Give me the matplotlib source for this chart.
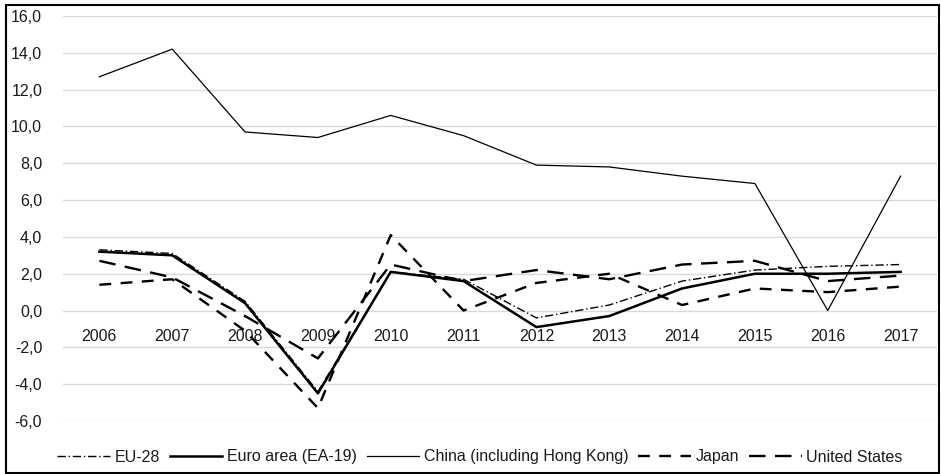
import matplotlib.pyplot as plt
from matplotlib.patches import Rectangle

plt.rcParams['font.family'] = ['Liberation Sans', 'DejaVu Sans']
plt.rcParams['font.size'] = 11.5

years = ['2006', '2007', '2008', '2009', '2010', '2011',
         '2012', '2013', '2014', '2015', '2016', '2017']
eu28 = [3.3, 3.1, 0.5, -4.4, 2.1, 1.7, -0.4, 0.3, 1.6, 2.2, 2.4, 2.5]
euro_area = [3.2, 3.0, 0.4, -4.5, 2.1, 1.6, -0.9, -0.3, 1.2, 2.0, 2.0, 2.1]
china = [12.7, 14.2, 9.7, 9.4, 10.6, 9.5, 7.9, 7.8, 7.3, 6.9, 0.0, 7.3]
japan = [1.4, 1.7, -1.1, -5.3, 4.1, 0.0, 1.5, 2.0, 0.3, 1.2, 1.0, 1.3]
united_states = [2.7, 1.8, -0.3, -2.6, 2.5, 1.6, 2.2, 1.7, 2.5, 2.7, 1.6, 1.9]

fig = plt.figure(figsize=(9.41, 4.74), dpi=100)
ax = fig.add_axes([63 / 941, 53 / 474, 874 / 941, 405 / 474])

x = [i + 0.5 for i in range(len(years))]

ax.plot(x, eu28, color='black', lw=1.0, dashes=(6, 2, 1, 2), label='EU-28')
ax.plot(x, euro_area, color='black', lw=1.8, label='Euro area (EA-19)')
ax.plot(x, china, color='black', lw=0.9, label='China (including Hong Kong)')
ax.plot(x, japan, color='black', lw=1.7, dashes=(5, 4), label='Japan')
ax.plot(x, united_states, color='black', lw=1.7, dashes=(7, 4), label='United States')

ax.set_xlim(0, 12)
ax.set_ylim(-6, 16)
ax.set_yticks(range(-6, 17, 2))
ax.set_yticklabels([f'{v},0' for v in range(-6, 17, 2)])
ax.set_xticks([])
ax.tick_params(axis='y', length=0, pad=15, labelcolor='#1a1a1a')
ax.grid(axis='y', color='#d9d9d9', lw=1.0)
ax.set_axisbelow(True)
for s in ax.spines.values():
    s.set_visible(False)

# year labels sit just under the zero line
for xi, yr in zip(x, years):
    ax.annotate(yr, (xi, 0), xytext=(0, -26), textcoords='offset pixels',
                ha='center', va='center', color='#1a1a1a')

leg = fig.legend(loc='center', bbox_to_anchor=(480 / 941, 17 / 474), ncol=5,
                 frameon=False, handlelength=3.3, handletextpad=0.3,
                 columnspacing=0.6, borderpad=0)
for t in leg.get_texts():
    t.set_color('#1a1a1a')

# chart border
fig.patches.append(Rectangle((6 / 941, 1 / 474), 933 / 941, 468 / 474,
                             transform=fig.transFigure, fill=False,
                             edgecolor='black', lw=1.5))

fig.savefig('out.png', dpi=100)
